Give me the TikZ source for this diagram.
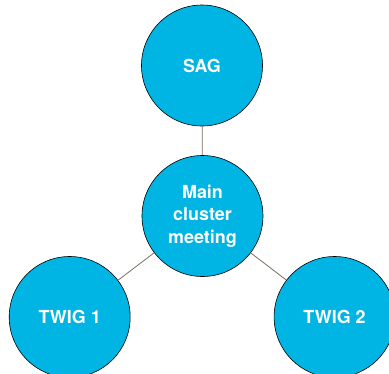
\documentclass[tikz,border=0pt]{standalone}
\usepackage{fontspec}
\setmainfont{TeX Gyre Heros}
\usetikzlibrary{positioning}
\definecolor{clusterblue}{HTML}{00B5E3}
\definecolor{linkgrey}{HTML}{7A6E64}

\begin{document}
\begin{tikzpicture}[x=1bp, y=-1bp,
    group/.style={circle, draw=black, line width=0.6pt, fill=clusterblue,
                  minimum size=121bp, inner sep=0pt, align=center,
                  text=white, font=\fontsize{18}{22.5}\selectfont\bfseries},
    link/.style={draw=linkgrey, line width=0.8pt}]
    \useasboundingbox (0,0) rectangle (389,374);
    \clip (0,0) rectangle (389,374);
    \node[group] (main) at (202.5,216) {Main\\cluster\\meeting};
    \node[group] (sag) at (202,65.5) {SAG};
    \node[group] (twig1) at (69.7,317) {TWIG 1};
    \node[group] (twig2) at (334.6,317) {TWIG 2};
    \draw[link] (sag) -- (main);
    \draw[link] (main) -- (twig1);
    \draw[link] (main) -- (twig2);
  \end{tikzpicture}
\end{document}
